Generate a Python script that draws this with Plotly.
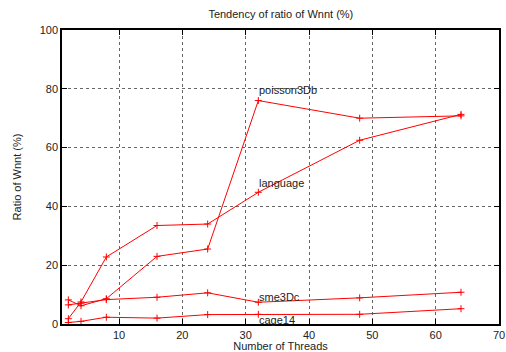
import plotly.graph_objects as go

threads = [2, 4, 8, 16, 24, 32, 48, 64]
poisson3Db = [8.2, 6.2, 8.6, 23.0, 25.5, 76.0, 70.0, 70.8]
language = [1.8, 7.5, 22.8, 33.5, 34.0, 44.8, 62.5, 71.3]
sme3Dc = [6.5, 7.1, 8.3, 9.1, 10.6, 7.4, 8.9, 10.8]
cage14 = [0.5, 0.9, 2.3, 2.0, 3.2, 3.3, 3.3, 5.2]

series = [("poisson3Db", poisson3Db, 79.5),
          ("language", language, 48.0),
          ("sme3Dc", sme3Dc, 9.3),
          ("cage14", cage14, 1.3)]
label_x = 32

x_ticks = [10, 20, 30, 40, 50, 60, 70]
y_ticks = [0, 20, 40, 60, 80, 100]

fig = go.Figure()
for name, vals, ly in series:
    fig.add_trace(go.Scatter(
        x=threads, y=vals, mode="lines+markers", name=name,
        line=dict(color="#ff0000", width=1),
        marker=dict(symbol="cross-thin", size=5, line=dict(color="#ff0000", width=1)),
        showlegend=False, cliponaxis=False))
    fig.add_annotation(x=label_x, y=ly, text=name, showarrow=False,
                       xanchor="left", yanchor="middle", borderpad=0,
                       font=dict(size=11, color="#222222"))

axis_common = dict(showline=True, linecolor="black", linewidth=1.5, mirror="allticks",
                   ticks="inside", ticklen=5, tickcolor="black",
                   showgrid=True, gridcolor="#666666", griddash="dot", gridwidth=1,
                   zeroline=False, automargin=False,
                   tickfont=dict(size=11, color="#222222"))

fig.update_xaxes(range=[1, 70], tickvals=x_ticks,
                 title=dict(text="Number of Threads", font=dict(size=11, color="#222222"), standoff=3),
                 **axis_common)
fig.update_yaxes(range=[0, 100], tickvals=y_ticks,
                 title=dict(text="Ratio of Wnnt (%)", font=dict(size=11, color="#222222"), standoff=16),
                 **axis_common)

fig.update_layout(
    width=506, height=352,
    margin=dict(l=62, r=7, t=30, b=28, autoexpand=False),
    paper_bgcolor="white", plot_bgcolor="white",
    font=dict(family="Liberation Sans, Arial, sans-serif", size=11, color="#222222"),
    title=dict(text="Tendency of ratio of Wnnt (%)", x=0.555, xanchor="center",
               yref="container", y=0.96, yanchor="middle", automargin=False,
               font=dict(size=11, color="#222222")),
)

fig.write_html("out.html", config={"displayModeBar": False},
               post_script="document.body.style.margin='0';")
